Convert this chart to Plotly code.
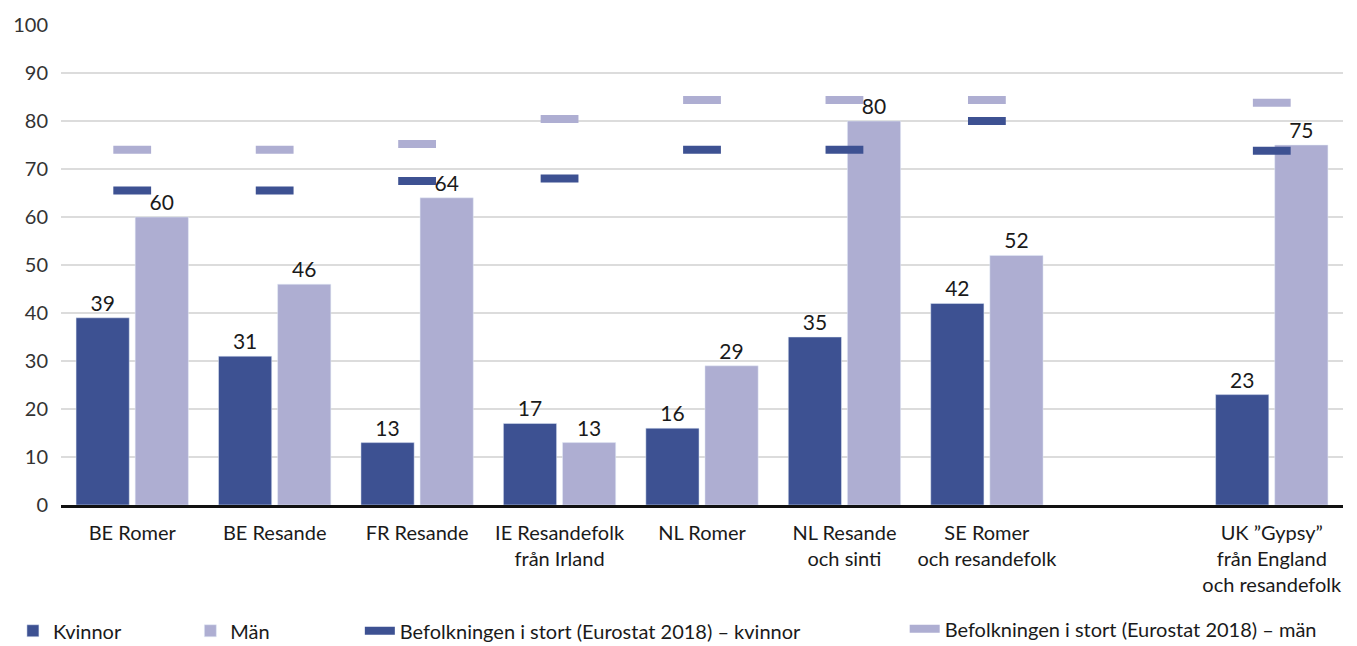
import plotly.graph_objects as go

categories = ["BE Romer", "BE Resande", "FR Resande", "IE Resandefolk<br>från Irland",
              "NL Romer", "NL Resande<br>och sinti", "SE Romer<br>och resandefolk", " ",
              "UK ”Gypsy”<br>från England<br>och resandefolk"]
kvinnor = [39, 31, 13, 17, 16, 35, 42, None, 23]
man = [60, 46, 64, 13, 29, 80, 52, None, 75]
euro_kvinnor = [65.5, 65.5, 67.5, 68, 74, 74, 80, None, 73.8]
euro_man = [74, 74, 75.2, 80.4, 84.4, 84.4, 84.4, None, 83.8]

DARK = "#3d5192"
LIGHT = "#aeaed2"
FONT = "Lato"

fig = go.Figure()
fig.add_trace(go.Bar(x=categories, y=kvinnor, name="Kvinnor", marker_color=DARK,
                     texttemplate="%{y}", textposition="outside", cliponaxis=False,
                     textfont=dict(size=21, color="#1a1a1a"), legend="legend"))
fig.add_trace(go.Bar(x=categories, y=man, name="Män", marker_color=LIGHT,
                     texttemplate="%{y}", textposition="outside", cliponaxis=False,
                     textfont=dict(size=21, color="#1a1a1a"), legend="legend2"))
fig.add_trace(go.Scatter(x=categories, y=euro_man, mode="markers", showlegend=False,
                         marker=dict(symbol="line-ew", size=27, color=LIGHT,
                                     line=dict(color=LIGHT, width=8))))
fig.add_trace(go.Scatter(x=categories, y=euro_kvinnor, mode="markers", showlegend=False,
                         marker=dict(symbol="line-ew", size=27, color=DARK,
                                     line=dict(color=DARK, width=8))))
fig.add_trace(go.Scatter(x=[categories[0]], y=[None], mode="lines",
                         name="Befolkningen i stort (Eurostat 2018) – kvinnor",
                         line=dict(color=DARK, width=8), legend="legend3"))
fig.add_trace(go.Scatter(x=[categories[0]], y=[None], mode="lines",
                         name="Befolkningen i stort (Eurostat 2018) – män",
                         line=dict(color=LIGHT, width=8), legend="legend4"))

leg_common = dict(orientation="h", yanchor="middle", xanchor="left",
                  font=dict(family=FONT, size=20, color="#1a1a1a"),
                  bgcolor="rgba(0,0,0,0)", borderwidth=0)
fig.update_layout(
    width=1357, height=646,
    margin=dict(l=53, r=22, t=17, b=149, autoexpand=False),
    paper_bgcolor="white", plot_bgcolor="white",
    font=dict(family=FONT, size=20, color="#1a1a1a"),
    barmode="group", bargap=0.17, bargroupgap=0.1,
    legend=dict(x=-0.0375, y=-0.262, **leg_common),
    legend2=dict(x=0.1009, y=-0.262, **leg_common),
    legend3=dict(x=0.2331, y=-0.262, **leg_common),
    legend4=dict(x=0.6581, y=-0.258, **leg_common),
)
fig.update_yaxes(range=[0, 100], dtick=10, showgrid=True, gridcolor="#dcdcdc",
                 gridwidth=1.5, zeroline=False, showline=False, automargin=False,
                 tickfont=dict(family=FONT, size=20, color="#333333"),
                 ticklabelstandoff=12)
fig.update_xaxes(type="category", categoryorder="array", categoryarray=categories,
                 range=[-0.5, len(categories) - 0.5],
                 showline=True, linecolor="#111111", linewidth=3, automargin=False,
                 tickfont=dict(family=FONT, size=20, color="#1a1a1a"),
                 ticklabelstandoff=8)

fig.write_html("out.html")
